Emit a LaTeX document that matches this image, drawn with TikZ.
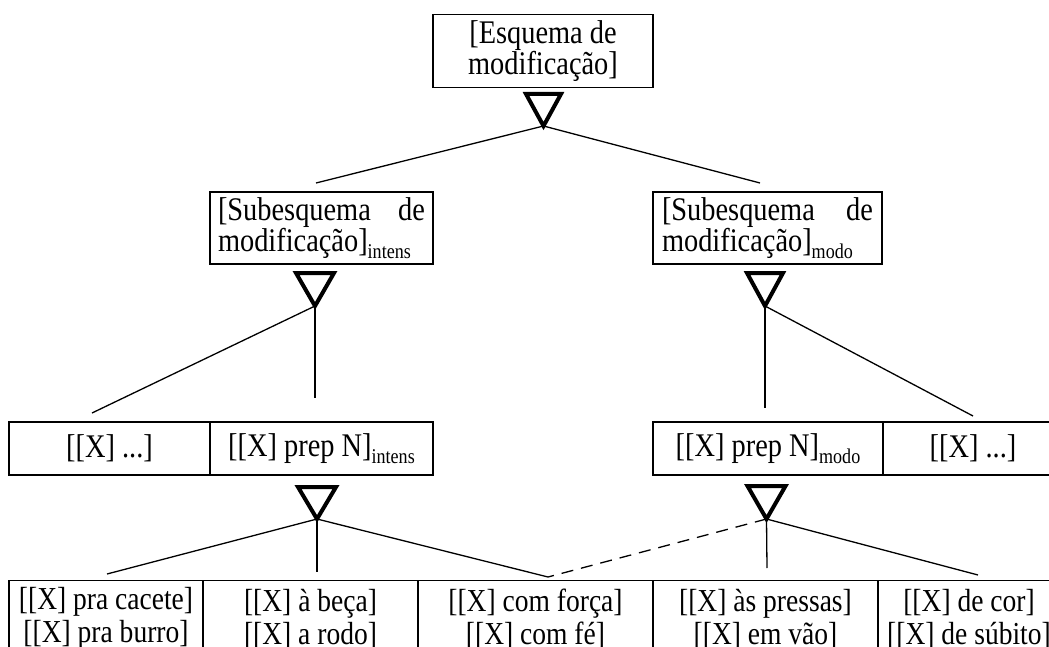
\documentclass[tikz,border=0pt]{standalone}
\usepackage{fontspec}
\setmainfont[FakeStretch=0.86]{Liberation Serif}
\begin{document}
\begin{tikzpicture}[x=1pt,y=-1pt]
\tikzset{
  box/.style={draw, line width=1.3pt, inner sep=0pt, align=center, font=\fontsize{33}{28}\selectfont},
  cellbox/.style={box, font=\fontsize{32}{33}\selectfont},
  tri/.style={line width=4pt, line join=miter},
  link/.style={line width=1.3pt},
  dlink/.style={link, dash pattern=on 12pt off 8pt},
}
\newcommand\sbs[1]{\raisebox{-7pt}{\fontsize{21}{21}\selectfont #1}}
\useasboundingbox (0,0) rectangle (1049,647);
\clip (0,0) rectangle (1049,647);

% top box
\node[box, minimum width=220pt, minimum height=73pt] (top) at (543,51) {[Esquema de\\modificação]};
% sub schemas
\node[box, minimum width=223pt, minimum height=72pt, text width=207pt, align=left] (subl) at (321.5,228)
  {[Subesquema\hfill de\\modificação]\sbs{intens}};
\node[box, minimum width=229pt, minimum height=72pt, text width=211pt, align=left] (subr) at (767.5,228)
  {[Subesquema\hfill de\\modificação]\sbs{modo}};
% middle row
\node[box, minimum width=201pt, minimum height=53pt] (m1) at (109.5,448.5) {[[X] ...]};
\node[box, minimum width=223pt, minimum height=53pt] (m2) at (321.5,448.5) {[[X] prep N]\sbs{intens}};
\node[box, minimum width=230pt, minimum height=53pt] (m3) at (768,448.5) {[[X] prep N]\sbs{modo}};
\node[box, minimum width=180pt, minimum height=53pt] (m4) at (973,448.5) {[[X] ...]};
% bottom row
\node[cellbox, minimum width=194pt, minimum height=76pt, anchor=north] (b1) at (106,580) {[[X] pra cacete]\\{}[[X] pra burro]};
\node[cellbox, minimum width=215pt, minimum height=76pt, anchor=north] (b2) at (310.5,580) {[[X] à beça]\\{}[[X] a rodo]};
\node[cellbox, minimum width=235pt, minimum height=76pt, anchor=north] (b3) at (535.5,580) {[[X] com força]\\{}[[X] com fé]};
\node[cellbox, minimum width=225pt, minimum height=76pt, anchor=north] (b4) at (765.5,580) {[[X] às pressas]\\{}[[X] em vão]};
\node[cellbox, minimum width=182pt, minimum height=76pt, anchor=north] (b5) at (969,580) {[[X] de cor]\\{}[[X] de súbito]};

% triangles (apex coordinates)
\coordinate (a0) at (543.5,126);
\coordinate (a1) at (315,306);
\coordinate (a2) at (765,306);
\coordinate (a3) at (317,519);
\coordinate (a4) at (766.5,519);
\draw[tri] (a0) -- ++(-17.5,-32) -- ++(35,0) -- cycle;
\draw[tri] (a1) -- ++(-19,-33) -- ++(38,0) -- cycle;
\draw[tri] (a2) -- ++(-18,-33) -- ++(36,0) -- cycle;
\draw[tri] (a3) -- ++(-19,-32) -- ++(38,0) -- cycle;
\draw[tri] (a4) -- ++(-19,-33) -- ++(38,0) -- cycle;

% connector ends
\coordinate (e1) at (316,183);
\coordinate (e2) at (760,183);
\coordinate (e3) at (92,413);
\coordinate (e4) at (315,398);
\coordinate (e5) at (765,408);
\coordinate (e6) at (973,416);
\coordinate (e7) at (107,574);
\coordinate (e8) at (317,572);
\coordinate (e9) at (548,577);
\coordinate (e10) at (767,568);
\coordinate (e11) at (978,575);

\draw[link] (a0) -- (e1);
\draw[link] (a0) -- (e2);
\draw[link] (a1) -- (e3);
\draw[link] (a1) -- (e4);
\draw[link] (a2) -- (e5);
\draw[link] (a2) -- (e6);
\draw[link] (a3) -- (e7);
\draw[link] (a3) -- (e8);
\draw[link] (a3) -- (e9);
\draw[dlink] (a4) -- (e9);
\draw[link] (a4) -- (e10);
\draw[link] (a4) -- (e11);
\end{tikzpicture}
\end{document}
